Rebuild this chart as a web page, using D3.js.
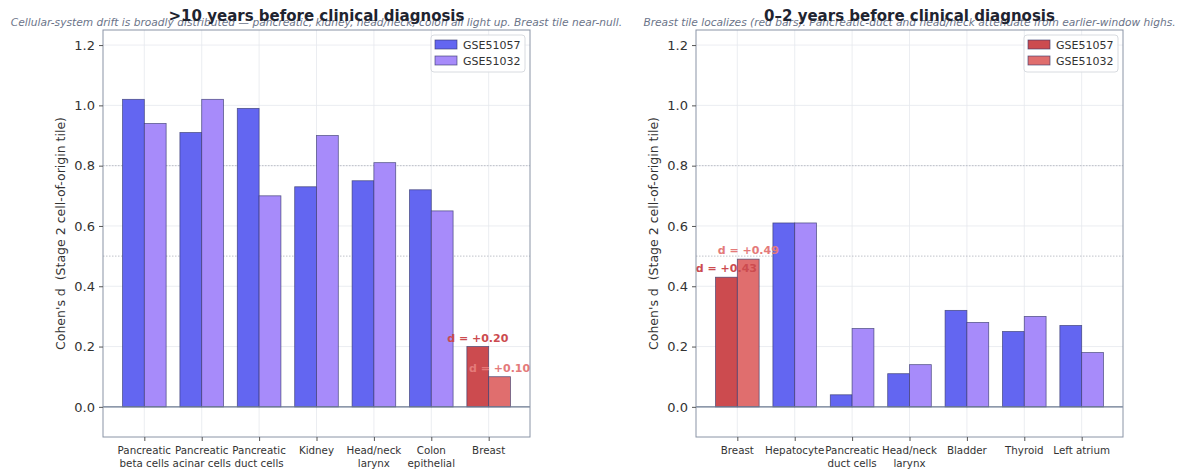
<!DOCTYPE html>
<html lang="en">
<head>
  <meta charset="UTF-8">
  <title>Cohen's d by tile</title>
  <script src="https://cdn.jsdelivr.net/npm/d3@7/dist/d3.min.js"></script>
  <style>
    body{ margin:0; background:#fff; }
    svg{ font-family: "DejaVu Sans", sans-serif; }
  </style>
</head>
<body>
<div id="chart"></div>
<script>
  // data
  const seriesNames = ['GSE51057', 'GSE51032'];

  const leftTitle = '>10 years before clinical diagnosis';
  const leftSubtitle = 'Cellular-system drift is broadly distributed \u2014 pancreatic, kidney, head/neck, colon all light up. Breast tile near-null.';
  const leftCats = [['Pancreatic','beta cells'], ['Pancreatic','acinar cells'], ['Pancreatic','duct cells'], ['Kidney'], ['Head/neck','larynx'], ['Colon','epithelial'], ['Breast']];
  const leftA = [1.02, 0.91, 0.99, 0.73, 0.75, 0.72, 0.20];
  const leftB = [0.94, 1.02, 0.70, 0.90, 0.81, 0.65, 0.10];

  const rightTitle = '0\u20132 years before clinical diagnosis';
  const rightSubtitle = 'Breast tile localizes (red bars). Pancreatic-duct and head/neck attenuate from earlier-window highs.';
  const rightCats = [['Breast'], ['Hepatocyte'], ['Pancreatic','duct cells'], ['Head/neck','larynx'], ['Bladder'], ['Thyroid'], ['Left atrium']];
  const rightA = [0.43, 0.61, 0.04, 0.11, 0.32, 0.25, 0.27];
  const rightB = [0.49, 0.61, 0.26, 0.14, 0.28, 0.30, 0.18];

  const yTicks = [0, 0.2, 0.4, 0.6, 0.8, 1.0, 1.2];
  const refLines = [0.5, 0.8];
  const yLabel = "Cohen's d  (Stage 2 cell-of-origin tile)";

  const W = 1180, H = 470;
  const svg = d3.select('#chart').append('svg').attr('width', W).attr('height', H);

  const col = {
    blue: '#6366f1', violet: '#a78bfa',
    red1: '#cc4b4f', red2: '#e06e6e',
    grid: '#e6e8ee', frame: '#8a94a6', text: '#333'
  };

  function panel(opt){
    const x0 = opt.left, x1 = opt.left + 427, y0 = 30, y1 = 437;
    const x = d3.scaleLinear().domain([-0.72, opt.cats.length - 1 + 0.72]).range([x0, x1]);
    const y = d3.scaleLinear().domain([-0.1, 1.25]).range([y1, y0]);
    const bw = 0.38;
    const g = svg.append('g');

    // grid
    g.append('g').selectAll('line').data(yTicks).join('line')
      .attr('x1', x0).attr('x2', x1).attr('y1', d => y(d)).attr('y2', d => y(d))
      .attr('stroke', col.grid).attr('stroke-width', 0.8);
    g.append('g').selectAll('line').data(d3.range(opt.cats.length)).join('line')
      .attr('x1', d => x(d)).attr('x2', d => x(d)).attr('y1', y0).attr('y2', y1)
      .attr('stroke', col.grid).attr('stroke-width', 0.8);
    g.selectAll('.ref').data(refLines).join('line').attr('class','ref')
      .attr('x1', x0).attr('x2', x1).attr('y1', d => y(d)).attr('y2', d => y(d))
      .attr('stroke', '#b0b4bc').attr('stroke-width', 0.8).attr('stroke-dasharray', '1.5,1.5');

    // bars
    const isRed = i => opt.cats[i][0] === 'Breast';
    const bars = [];
    opt.cats.forEach((c, i) => {
      bars.push({i, v: opt.a[i], off: -bw, fill: isRed(i) ? col.red1 : col.blue});
      bars.push({i, v: opt.b[i], off: 0, fill: isRed(i) ? col.red2 : col.violet});
    });
    g.append('g').selectAll('rect').data(bars).join('rect')
      .attr('x', d => x(d.i + d.off))
      .attr('width', x(bw) - x(0))
      .attr('y', d => y(d.v))
      .attr('height', d => y(0) - y(d.v))
      .attr('fill', d => d.fill)
      .attr('stroke', '#33366a').attr('stroke-opacity', 0.75).attr('stroke-width', 0.8);

    // annotations
    opt.cats.forEach((c, i) => {
      if(!isRed(i)) return;
      [opt.a[i], opt.b[i]].forEach((v, k) => {
        g.append('text')
          .attr('x', x(i + (k === 0 ? -bw/2 : bw/2)))
          .attr('y', y(v) - 5)
          .attr('text-anchor', 'middle')
          .attr('font-size', 11).attr('font-weight', 'bold')
          .attr('fill', k === 0 ? col.red1 : '#e47a7a')
          .text('d = +' + v.toFixed(2));
      });
    });

    // zero line
    g.append('line').attr('x1', x0).attr('x2', x1).attr('y1', y(0)).attr('y2', y(0))
      .attr('stroke', '#6b7a90').attr('stroke-width', 1.2);

    // frame
    g.append('rect').attr('x', x0).attr('y', y0).attr('width', x1 - x0).attr('height', y1 - y0)
      .attr('fill', 'none').attr('stroke', col.frame).attr('stroke-width', 1);

    // axes
    const ya = g.append('g').attr('transform', `translate(${x0},0)`)
      .call(d3.axisLeft(y).tickValues(yTicks).tickFormat(d3.format('.1f')).tickSize(4).tickPadding(4));
    ya.select('.domain').remove();
    ya.selectAll('line').attr('stroke', '#555');
    ya.selectAll('text').attr('font-size', 13).attr('fill', col.text).attr('font-family', '"DejaVu Sans", sans-serif');

    const xa = g.append('g').attr('transform', `translate(0,${y1})`)
      .call(d3.axisBottom(x).tickValues(d3.range(opt.cats.length)).tickFormat('').tickSize(4));
    xa.select('.domain').remove();
    xa.selectAll('line').attr('stroke', '#555');
    g.append('g').selectAll('text').data(opt.cats).join('text')
      .attr('x', (d, i) => x(i)).attr('y', y1 + 17)
      .attr('text-anchor', 'middle').attr('font-size', 10.3).attr('fill', col.text)
      .selectAll('tspan').data(d => d).join('tspan')
      .attr('x', function(){ return this.parentNode.getAttribute('x'); })
      .attr('dy', (d, k) => k === 0 ? 0 : 12.7)
      .text(d => d);

    // y label
    g.append('text')
      .attr('transform', `translate(${x0 - 38},${(y0 + y1) / 2}) rotate(-90)`)
      .attr('text-anchor', 'middle').attr('font-size', 12.5).attr('fill', col.text)
      .style('white-space', 'pre')
      .text(yLabel);

    // legend
    const lg = g.append('g').attr('transform', `translate(${x1 - 99},${y0 + 5})`);
    lg.append('rect').attr('width', 94).attr('height', 37).attr('rx', 3)
      .attr('fill', '#fff').attr('fill-opacity', 0.85).attr('stroke', '#d8dbe0');
    seriesNames.forEach((s, k) => {
      lg.append('rect').attr('x', 4).attr('y', 5 + k * 16).attr('width', 22).attr('height', 9)
        .attr('fill', opt.legendFill[k]).attr('stroke', '#33366a').attr('stroke-opacity', 0.75).attr('stroke-width', 0.8);
      lg.append('text').attr('x', 32).attr('y', 13.5 + k * 16)
        .attr('font-size', 11).attr('fill', col.text).text(s);
    });

    // subtitle then title on top
    const cx = (x0 + x1) / 2;
    svg.append('text').attr('x', cx).attr('y', 26).attr('text-anchor', 'middle')
      .attr('font-size', 10.65).attr('font-style', 'italic').attr('fill', '#6b7489')
      .text(opt.subtitle);
    svg.append('text').attr('x', cx).attr('y', 21).attr('text-anchor', 'middle')
      .attr('font-size', 15).attr('font-weight', 'bold').attr('fill', '#1f2430')
      .text(opt.title);
  }

  panel({left: 103, cats: leftCats, a: leftA, b: leftB, title: leftTitle, subtitle: leftSubtitle,
         legendFill: [col.blue, col.violet]});
  panel({left: 696, cats: rightCats, a: rightA, b: rightB, title: rightTitle, subtitle: rightSubtitle,
         legendFill: [col.red1, col.red2]});
</script>
</body>
</html>
